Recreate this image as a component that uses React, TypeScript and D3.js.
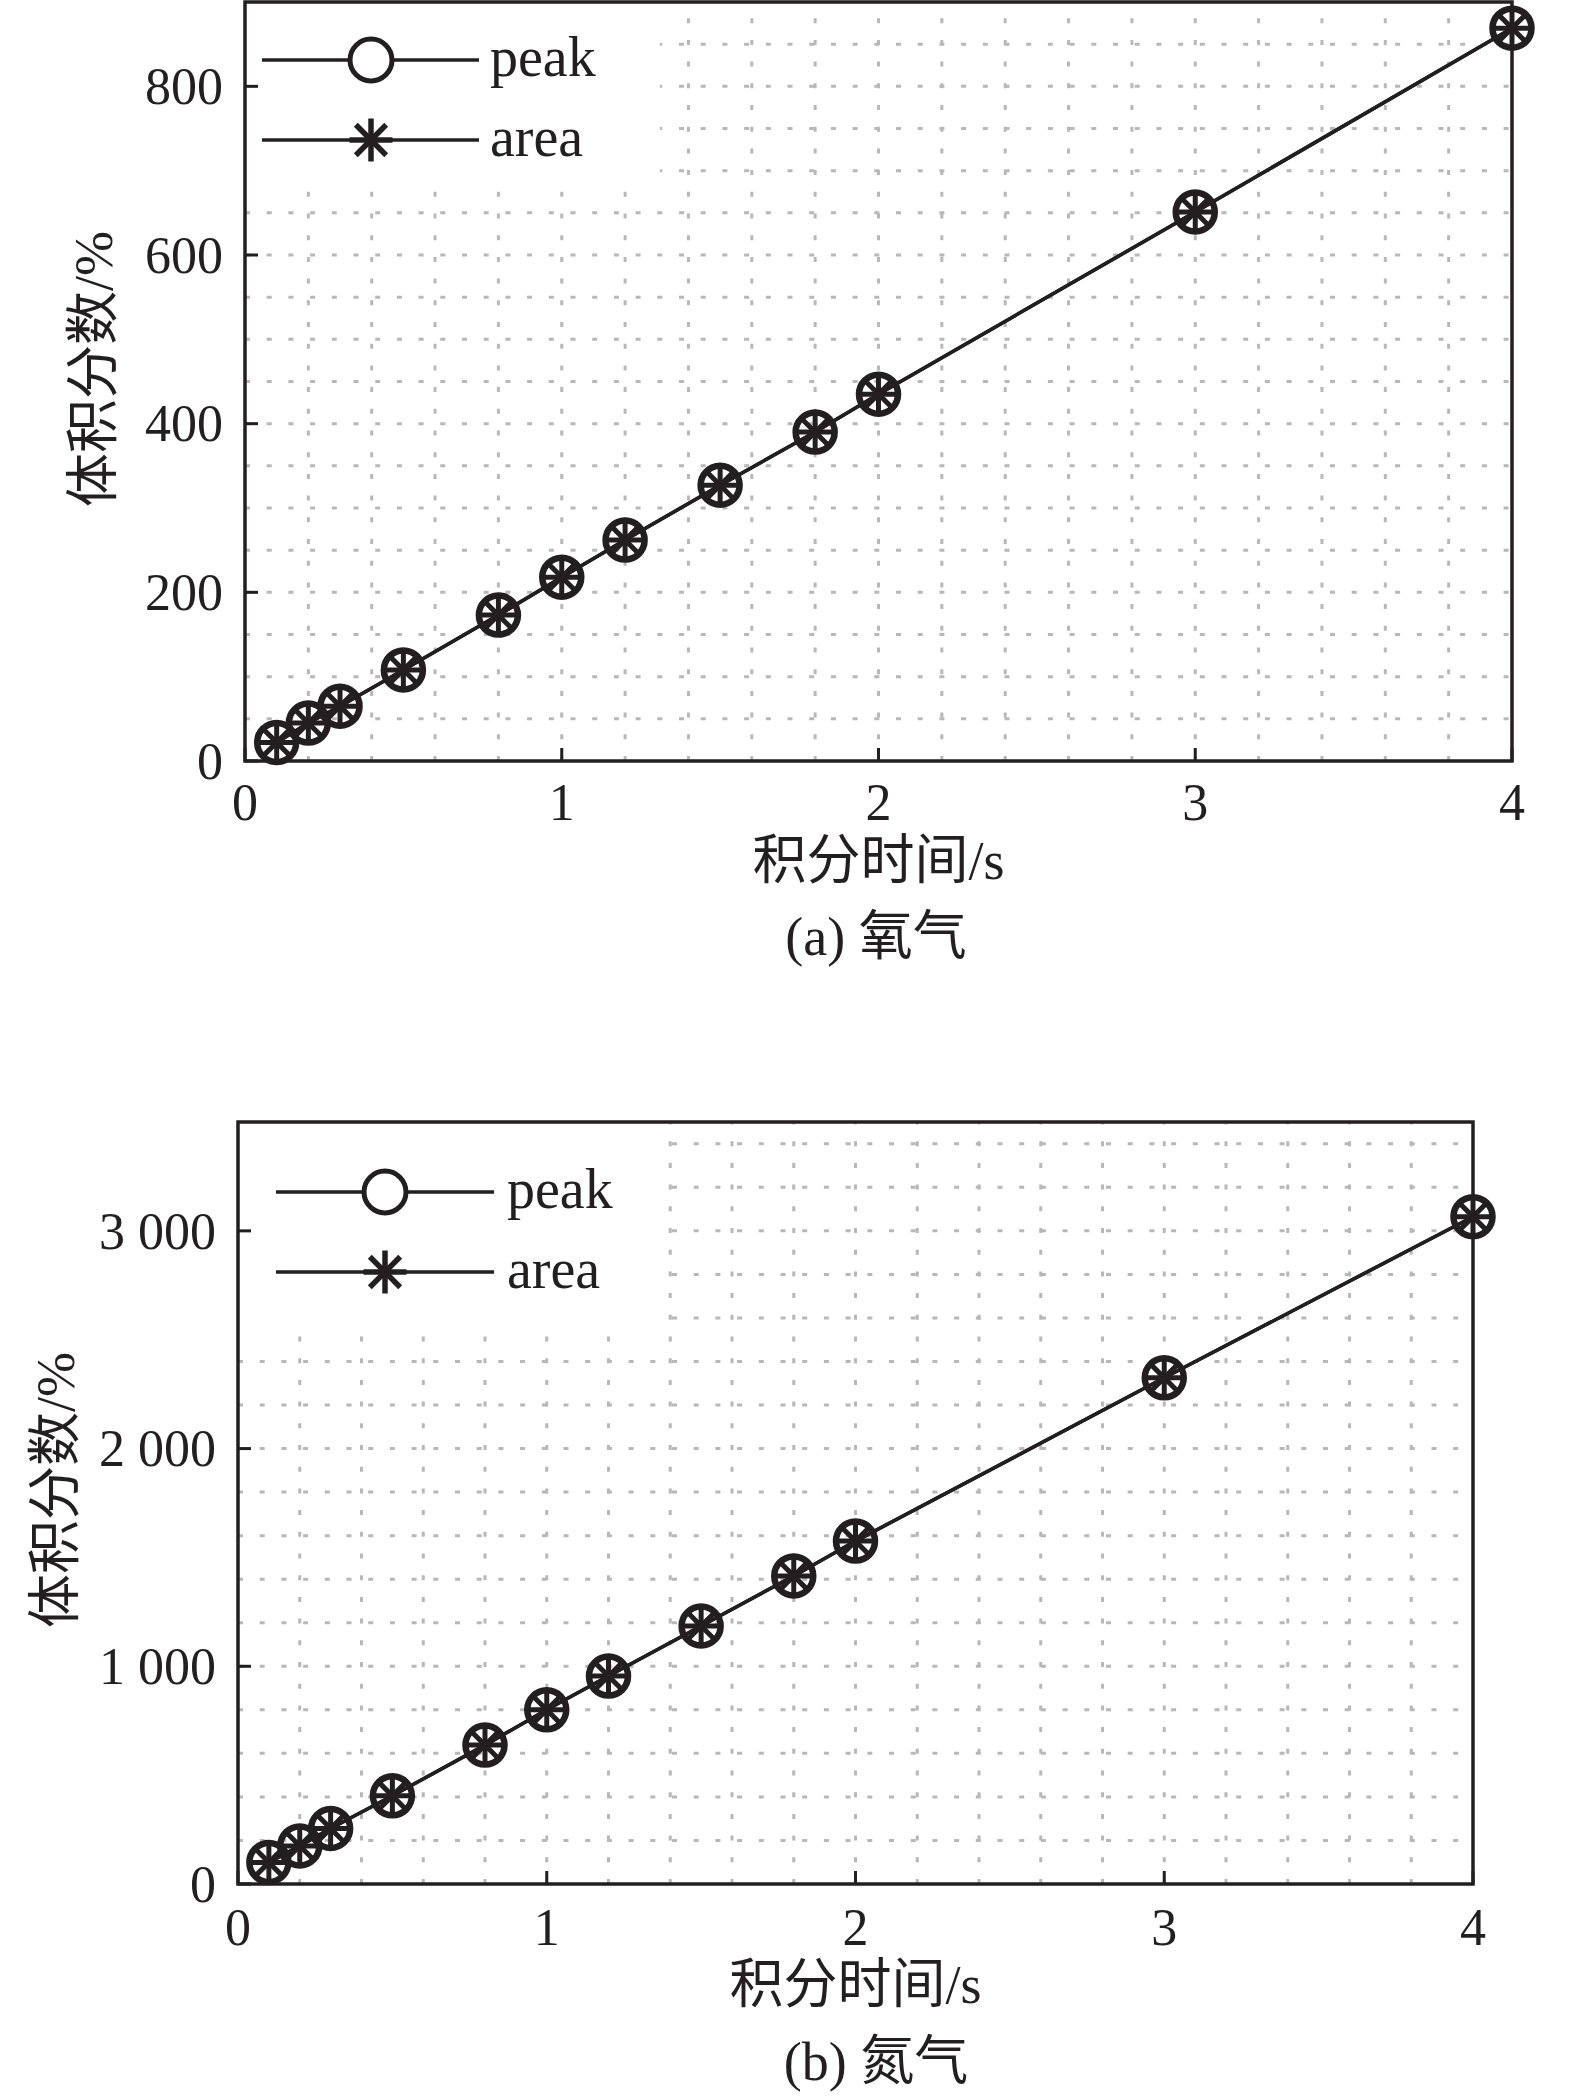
import * as d3 from "d3";

// integration time, s (shared by both panels)
const timeSec = [0.1, 0.2, 0.3, 0.5, 0.8, 1.0, 1.2, 1.5, 1.8, 2.0, 3.0, 4.0];

// (a) oxygen
const oxygenPeak = [22, 45, 65, 108, 173, 218, 262, 327, 390, 435, 651, 869];
const oxygenArea = [22, 45, 65, 108, 173, 218, 262, 327, 390, 435, 651, 869];
const oxygenYTicks = [0, 200, 400, 600, 800];

// (b) nitrogen
const nitrogenPeak = [99, 175, 255, 405, 638, 800, 955, 1185, 1415, 1575, 2325, 3065];
const nitrogenArea = [99, 175, 255, 405, 638, 800, 955, 1185, 1415, 1575, 2325, 3065];
const nitrogenYTicks = [0, 1000, 2000, 3000];

const xTicks = [0, 1, 2, 3, 4];
const seriesNames = ["peak", "area"];

const INK = "#231f20";
const GRID = "#b8b8b8";
const FONT = '"Liberation Serif", "Times New Roman", "Noto Sans CJK SC", serif';

const fmtSpace = d3.formatLocale({ decimal: ".", thousands: " ", grouping: [3], currency: ["", ""] }).format(",");

function Asterisk({ x, y, r, w }: { x: number; y: number; r: number; w: number }) {
  const d = r * Math.SQRT1_2;
  return (
    <g stroke={INK} strokeWidth={w} strokeLinecap="butt">
      <line x1={x - r} y1={y} x2={x + r} y2={y} />
      <line x1={x} y1={y - r} x2={x} y2={y + r} />
      <line x1={x - d} y1={y - d} x2={x + d} y2={y + d} />
      <line x1={x - d} y1={y + d} x2={x + d} y2={y - d} />
    </g>
  );
}

interface PanelProps {
  peak: number[];
  area: number[];
  yTicks: number[];
  yMax: number;
  yGridStep: number;
  fmt: (v: number) => string;
  box: { left: number; right: number; top: number; bottom: number };
  xTickBase: number;
  xLabelBase: number;
  captionBase: number;
  caption: string;
  yLabel: { x: number; y: number };
  legend: { x0: number; x1: number; mx: number; y0: number; y1: number; tx: number; w: number; h: number };
}

function Panel(p: PanelProps) {
  const { left, right, top, bottom } = p.box;
  const x = d3.scaleLinear().domain([0, 4]).range([left, right]);
  const y = d3.scaleLinear().domain([0, p.yMax]).range([bottom, top]);

  const xGrid = d3.range(1, 20).map((i) => i * 0.2);
  const yGrid = d3.range(1, Math.round(p.yMax / p.yGridStep)).map((i) => i * p.yGridStep);

  const line = d3
    .line<number>()
    .x((_, i) => x(timeSec[i]))
    .y((v) => y(v));

  const lg = p.legend;

  return (
    <g fontFamily={FONT} fill={INK}>
      {/* grid */}
      <g stroke={GRID} strokeWidth={3} strokeDasharray="5 16.7" fill="none">
        {xGrid.map((v) => (
          <line key={"gx" + v} x1={x(v)} x2={x(v)} y1={bottom} y2={top} />
        ))}
        {yGrid.map((v) => (
          <line key={"gy" + v} x1={left} x2={right} y1={y(v)} y2={y(v)} />
        ))}
      </g>

      {/* legend backdrop hides the grid */}
      <rect x={left} y={top} width={lg.w} height={lg.h} fill="#fff" />

      {/* series */}
      <path d={line(p.peak) || ""} fill="none" stroke={INK} strokeWidth={3.5} />
      <path d={line(p.area) || ""} fill="none" stroke={INK} strokeWidth={3.5} />
      {p.peak.map((v, i) => (
        <circle key={"c" + i} cx={x(timeSec[i])} cy={y(v)} r={19.5} fill="none" stroke={INK} strokeWidth={6.5} />
      ))}
      {p.area.map((v, i) => (
        <Asterisk key={"s" + i} x={x(timeSec[i])} y={y(v)} r={19} w={5} />
      ))}

      {/* frame and ticks */}
      <rect x={left} y={top} width={right - left} height={bottom - top} fill="none" stroke={INK} strokeWidth={3.5} />
      {xTicks.map((v) => (
        <g key={"xt" + v}>
          <line x1={x(v)} x2={x(v)} y1={bottom} y2={bottom - 13} stroke={INK} strokeWidth={3} />
          <text x={x(v)} y={p.xTickBase} fontSize={52} textAnchor="middle">
            {v}
          </text>
        </g>
      ))}
      {p.yTicks.map((v) => (
        <g key={"yt" + v}>
          <line x1={left} x2={left + 13} y1={y(v)} y2={y(v)} stroke={INK} strokeWidth={3} />
          <text x={left - 22} y={y(v)} dy="0.34em" fontSize={52} textAnchor="end">
            {p.fmt(v)}
          </text>
        </g>
      ))}

      {/* legend */}
      <line x1={lg.x0} x2={lg.x1} y1={lg.y0} y2={lg.y0} stroke={INK} strokeWidth={3.5} />
      <circle cx={lg.mx} cy={lg.y0} r={21} fill="#fff" stroke={INK} strokeWidth={5} />
      <text x={lg.tx} y={lg.y0 + 16} fontSize={56}>
        {seriesNames[0]}
      </text>
      <line x1={lg.x0} x2={lg.x1} y1={lg.y1} y2={lg.y1} stroke={INK} strokeWidth={3.5} />
      <Asterisk x={lg.mx} y={lg.y1} r={21.5} w={5.5} />
      <text x={lg.tx} y={lg.y1 + 16} fontSize={56}>
        {seriesNames[1]}
      </text>

      {/* axis titles and caption */}
      <text x={(left + right) / 2} y={p.xLabelBase} fontSize={54} textAnchor="middle">
        积分时间/s
      </text>
      <text
        transform={`translate(${p.yLabel.x},${p.yLabel.y}) rotate(-90)`}
        fontSize={54}
        textAnchor="middle"
        dominantBaseline="central"
      >
        体积分数/%
      </text>
      <text x={876} y={p.captionBase} fontSize={54} textAnchor="middle">
        {p.caption}
      </text>
    </g>
  );
}

export default function App() {
  return (
    <svg
      width={1575}
      height={2096}
      viewBox="0 0 1575 2096"
      style={{ position: "absolute", left: 0, top: 0, background: "#fff" }}
    >
      <rect width={1575} height={2096} fill="#fff" />
      <Panel
        peak={oxygenPeak}
        area={oxygenArea}
        yTicks={oxygenYTicks}
        yMax={900}
        yGridStep={50}
        fmt={(v) => String(v)}
        box={{ left: 245, right: 1512, top: 2, bottom: 761 }}
        xTickBase={820}
        xLabelBase={879}
        captionBase={955}
        caption="(a) 氧气"
        yLabel={{ x: 94, y: 369 }}
        legend={{ x0: 262, x1: 479, mx: 371, y0: 60, y1: 140, tx: 490, w: 415, h: 188 }}
      />
      <Panel
        peak={nitrogenPeak}
        area={nitrogenArea}
        yTicks={nitrogenYTicks}
        yMax={3500}
        yGridStep={200}
        fmt={(v) => fmtSpace(v)}
        box={{ left: 238, right: 1473, top: 1122, bottom: 1884 }}
        xTickBase={1945}
        xLabelBase={2003}
        captionBase={2080}
        caption="(b) 氮气"
        yLabel={{ x: 56, y: 1490 }}
        legend={{ x0: 276, x1: 494, mx: 385, y0: 1192, y1: 1272, tx: 507, w: 425, h: 208 }}
      />
    </svg>
  );
}
